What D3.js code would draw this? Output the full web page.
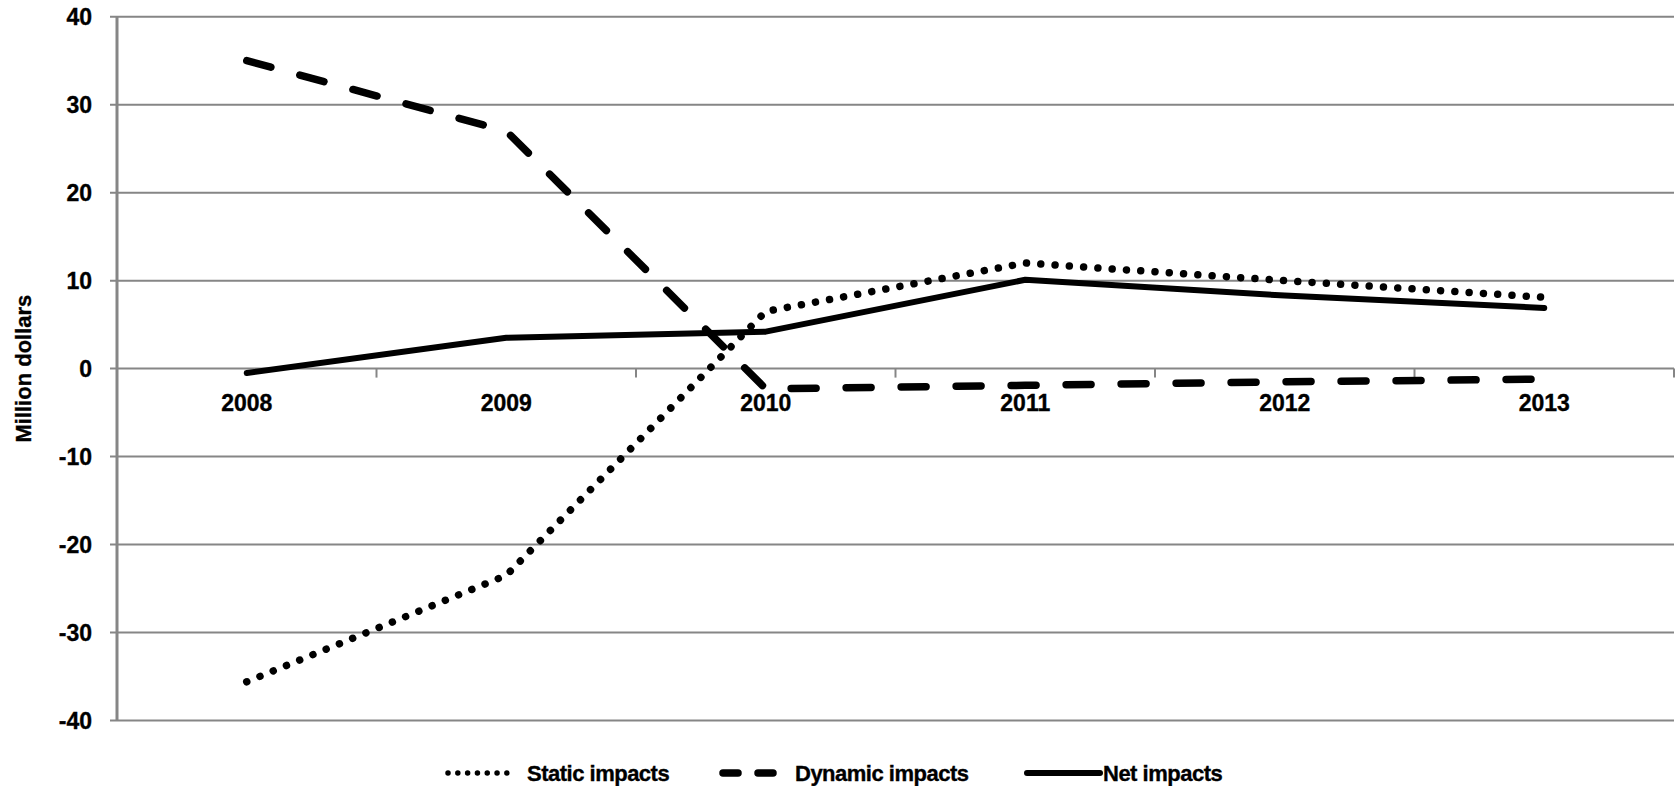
<!DOCTYPE html>
<html>
<head>
<meta charset="utf-8">
<script src="https://cdn.jsdelivr.net/npm/d3@7"></script>
<style>
  html, body { margin: 0; padding: 0; background: #fff; }
  text { font-family: "Liberation Sans", Arial, sans-serif; font-weight: bold; fill: #000; stroke: #000; stroke-width: 0.35px; }
</style>
</head>
<body>
<div id="chart"></div>
<script>
const years = ['2008', '2009', '2010', '2011', '2012', '2013'];
const staticImpacts = [-35.6, -23.5, 6.5, 12.0, 10.0, 8.1];
const dynamicImpacts = [35.0, 27.0, -2.3, -1.9, -1.5, -1.2];
const netImpacts = [-0.5, 3.5, 4.2, 10.1, 8.3, 6.9];
const yTicks = [-40, -30, -20, -10, 0, 10, 20, 30, 40];
const seriesNames = ['Static impacts', 'Dynamic impacts', 'Net impacts'];

const width = 1675, height = 786;
const gridColor = '#868686';

const svg = d3.select('#chart').append('svg')
    .attr('width', width)
    .attr('height', height);

const x = d3.scaleBand()
    .domain(years)
    .range([117, 1674])
    .padding(0);

const y = d3.scaleLinear()
    .domain([-40, 40])
    .range([720.5, 16.7]);

// gridlines
svg.append('g')
    .selectAll('line')
    .data(yTicks)
    .join('line')
    .attr('x1', 110)
    .attr('x2', 1674)
    .attr('y1', d => y(d))
    .attr('y2', d => y(d))
    .attr('stroke', gridColor)
    .attr('stroke-width', 2);

// y axis line
svg.append('line')
    .attr('x1', 117).attr('x2', 117)
    .attr('y1', y(40)).attr('y2', y(-40))
    .attr('stroke', gridColor)
    .attr('stroke-width', 3);

// y tick labels
svg.append('g')
    .selectAll('text')
    .data(yTicks)
    .join('text')
    .attr('x', 92)
    .attr('y', d => y(d))
    .attr('dy', '0.35em')
    .attr('text-anchor', 'end')
    .style('font-size', '23px')
    .text(d => d);

// category tick marks on the zero line
const edges = years.map(d => x(d) + x.bandwidth()).slice(0, -1);
edges.push(1674);
svg.append('g')
    .selectAll('line')
    .data(edges)
    .join('line')
    .attr('x1', d => d).attr('x2', d => d)
    .attr('y1', y(0)).attr('y2', y(0) + 9)
    .attr('stroke', gridColor)
    .attr('stroke-width', 2);

// category labels
svg.append('g')
    .selectAll('text')
    .data(years)
    .join('text')
    .attr('x', d => x(d) + x.bandwidth() / 2)
    .attr('y', y(0) + 42)
    .attr('text-anchor', 'middle')
    .style('font-size', '23px')
    .text(d => d);

// y axis title
svg.append('text')
    .attr('transform', `translate(31, ${y(0)}) rotate(-90)`)
    .attr('text-anchor', 'middle')
    .style('font-size', '22px')
    .text('Million dollars');

const line = d3.line()
    .x((d, i) => x(years[i]) + x.bandwidth() / 2)
    .y(d => y(d));

const styles = [
    { width: 7.5, dash: '0.01 14.3', legendWidth: 5.5, legendDash: '0.01 9.8' },
    { width: 7.5, dash: '25 30', legendWidth: 7.5, legendDash: '15 20' },
    { width: 6, dash: null, legendWidth: 6, legendDash: null }
];

const series = [staticImpacts, dynamicImpacts, netImpacts];

svg.append('g')
    .selectAll('path')
    .data(series)
    .join('path')
    .attr('d', d => line(d))
    .attr('fill', 'none')
    .attr('stroke', '#000')
    .attr('stroke-width', (d, i) => styles[i].width)
    .attr('stroke-linecap', 'round')
    .attr('stroke-linejoin', 'round')
    .attr('stroke-dasharray', (d, i) => styles[i].dash);

// legend
const legendPos = [
    { x1: 448, x2: 515, tx: 527 },
    { x1: 723, x2: 775, tx: 795 },
    { x1: 1027, x2: 1100, tx: 1103 }
];
const legendY = 773;
const legend = svg.append('g')
    .selectAll('g')
    .data(seriesNames)
    .join('g');

legend.append('line')
    .attr('x1', (d, i) => legendPos[i].x1)
    .attr('x2', (d, i) => legendPos[i].x2)
    .attr('y1', legendY).attr('y2', legendY)
    .attr('stroke', '#000')
    .attr('stroke-width', (d, i) => styles[i].legendWidth)
    .attr('stroke-linecap', 'round')
    .attr('stroke-dasharray', (d, i) => styles[i].legendDash);

legend.append('text')
    .attr('x', (d, i) => legendPos[i].tx)
    .attr('y', legendY)
    .attr('dy', '0.35em')
    .style('font-size', '22px')
    .style('letter-spacing', '-0.5px')
    .text(d => d);
</script>
</body>
</html>
